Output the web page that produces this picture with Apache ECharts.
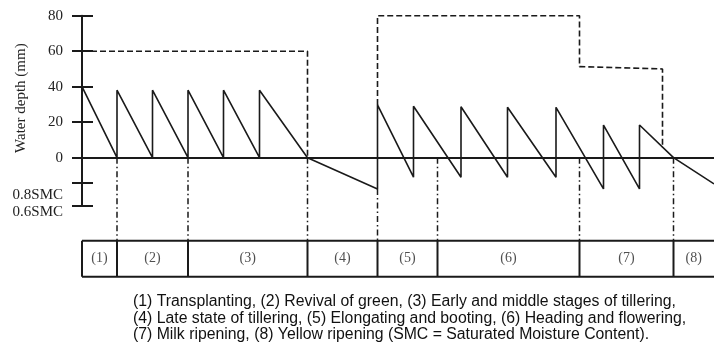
<!DOCTYPE html>
<html><head><meta charset="utf-8">
<script src="https://cdn.jsdelivr.net/npm/echarts@6/dist/echarts.min.js"></script>
<style>html,body{margin:0;padding:0;background:#fff}#c{width:714px;height:356px}</style>
</head><body><div id="c"></div>
<script>
// ---- data (x in days after transplanting, y in mm of water depth) ----
const depthX = [0,7,7,14.1,14.1,21.2,21.2,28.3,28.3,35.5,35.5,45.1,59.1,59.1,66.3,66.3,75.8,75.8,85.1,85.1,94.8,94.8,104.3,104.3,111.5,111.5,118.3,126.4];
const depthY = [40,0,38,0,38,0,38,0,38,0,38,0,-17.6,29.7,-11,29,-11,28.7,-11,28.4,-11,28.4,-17.6,18.4,-17.6,18.4,0,-14.8];
const upperX1 = [0,45.1,45.1];
const upperY1 = [60,60,0];
const upperX2 = [59.1,59.1,99.5,99.5,116.1,116.1];
const upperY2 = [29.7,80,80,51.3,50,5.5];
const stageBounds = [0,7,21.2,45.1,59.1,71.1,99.5,118.3,126.4];
const stageLabels = ['(1)','(2)','(3)','(4)','(5)','(6)','(7)','(8)'];
const dividerStart = [0,0,0,-17.6,0,0,0];
const yTickValues = [80,60,40,20,0,-14,-27];
const yNumValues = [80,60,40,20,0];
const smcLabelValues = [-16.8,-26.4];
const smcLabels = ['0.8SMC','0.6SMC'];
const caption = [
  '(1) Transplanting, (2) Revival of green, (3) Early and middle stages of tillering,',
  '(4) Late state of tillering, (5) Elongating and booting, (6) Heading and flowering,',
  '(7) Milk ripening, (8) Yellow ripening (SMC = Saturated Moisture Content).'
];

// ---- layout constants ----
const X_MAX = 126.4;
const Y_MIN = -27, Y_MAX = 80;
const TABLE_TOP = -46.8, TABLE_BOTTOM = -67;
const INK = '#1a1a1a';
const SERIF = "'Liberation Serif','DejaVu Serif',serif";

const zip = (xs, ys) => xs.map((x, i) => [x, ys[i]]);
const smcMap = {};
smcLabelValues.forEach((v, i) => smcMap[v] = smcLabels[i]);

const series = [];
series.push({type:'line', xAxisIndex:0, yAxisIndex:0, data: zip(depthX, depthY), showSymbol:false, clip:false,
  lineStyle:{color:INK, width:1.6}, animation:false});
[[upperX1, upperY1],[upperX2, upperY2]].forEach(([xs, ys]) => series.push({type:'line', xAxisIndex:0, yAxisIndex:0,
  data: zip(xs, ys), showSymbol:false, clip:false, lineStyle:{color:INK, width:1.6, type:[6,3]}, animation:false}));
// dash-dot stage dividers
stageBounds.slice(1, -1).forEach((b, i) => series.push({type:'line', xAxisIndex:1, yAxisIndex:3,
  data: [[b, dividerStart[i]], [b, TABLE_TOP]], showSymbol:false, clip:false,
  lineStyle:{color:INK, width:1.5, type:[6,3,1.5,3]}, animation:false}));
// table borders
series.push({type:'line', xAxisIndex:1, yAxisIndex:3, data:[[0,TABLE_TOP],[X_MAX,TABLE_TOP]], showSymbol:false, clip:false,
  lineStyle:{color:INK, width:2}, animation:false});
series.push({type:'line', xAxisIndex:1, yAxisIndex:3, data:[[0,TABLE_BOTTOM],[X_MAX,TABLE_BOTTOM]], showSymbol:false, clip:false,
  lineStyle:{color:INK, width:2}, animation:false});
stageBounds.slice(0, -1).forEach(b => series.push({type:'line', xAxisIndex:1, yAxisIndex:3,
  data:[[b,TABLE_TOP],[b,TABLE_BOTTOM]], showSymbol:false, clip:false, lineStyle:{color:INK, width:2}, animation:false}));
// stage labels
series.push({type:'scatter', xAxisIndex:1, yAxisIndex:3, symbolSize:1, itemStyle:{color:'rgba(0,0,0,0)'}, animation:false,
  data: stageLabels.map((t, i) => ({value:[(stageBounds[i] + stageBounds[i+1]) / 2, (TABLE_TOP + TABLE_BOTTOM) / 2], name:t})),
  label:{show:true, position:'inside', formatter: p => p.name, color:'#222', fontFamily:SERIF, fontSize:14}});

const option = {
  backgroundColor:'#fff',
  animation:false,
  title:{text: caption.join('\n'), left:133, top:293, padding:0,
    textStyle:{fontFamily:"'Liberation Sans',Arial,sans-serif", fontSize:15.8, lineHeight:16.8, fontWeight:'normal', color:'#111'}},
  grid:[
    {left:82, right:0, top:15.7, bottom:150.4, containLabel:false, outerBoundsMode:'none'},
    {left:82, right:0, top:157.7, bottom:79.3, containLabel:false, outerBoundsMode:'none'}
  ],
  xAxis:[
    {type:'value', gridIndex:0, min:0, max:X_MAX, axisLine:{onZero:true, lineStyle:{color:INK, width:2}},
      axisTick:{show:false}, axisLabel:{show:false}, splitLine:{show:false}},
    {type:'value', gridIndex:1, min:0, max:X_MAX, show:false}
  ],
  yAxis:[
    {type:'value', gridIndex:0, position:'left', min:Y_MIN, max:Y_MAX, axisLine:{show:true, lineStyle:{color:INK, width:2}},
      axisTick:{show:true, inside:true, length:11, customValues:yTickValues, lineStyle:{color:INK, width:2}},
      axisLabel:{show:false}, splitLine:{show:false}},
    {type:'value', gridIndex:0, position:'left', min:Y_MIN, max:Y_MAX, axisLine:{show:false},
      axisTick:{show:true, inside:false, length:10, customValues:yTickValues, lineStyle:{color:INK, width:2}},
      axisLabel:{show:true, customValues:yNumValues, margin:19, color:'#222', fontFamily:SERIF, fontSize:15,
        showMinLabel:true, showMaxLabel:true, formatter: v => String(v)},
      splitLine:{show:false},
      name:'Water depth (mm)', nameLocation:'middle', nameGap:53, nameMoveOverlap:false,
      nameTextStyle:{fontFamily:SERIF, fontSize:15, color:'#222', padding:[0,0,0,25]}},
    {type:'value', gridIndex:0, position:'left', min:Y_MIN, max:Y_MAX, axisLine:{show:false}, axisTick:{show:false},
      splitLine:{show:false},
      axisLabel:{show:true, customValues:smcLabelValues, margin:19, color:'#222', fontFamily:SERIF, fontSize:15,
        lineHeight:15, verticalAlign:'top', showMinLabel:true, showMaxLabel:true, formatter: v => smcMap[v] || ''}},
    {type:'value', gridIndex:1, min:TABLE_BOTTOM, max:0, show:false}
  ],
  series
};
const chart = echarts.init(document.getElementById('c'), null, {renderer:'canvas'});
chart.setOption(option);
</script>
</body></html>
